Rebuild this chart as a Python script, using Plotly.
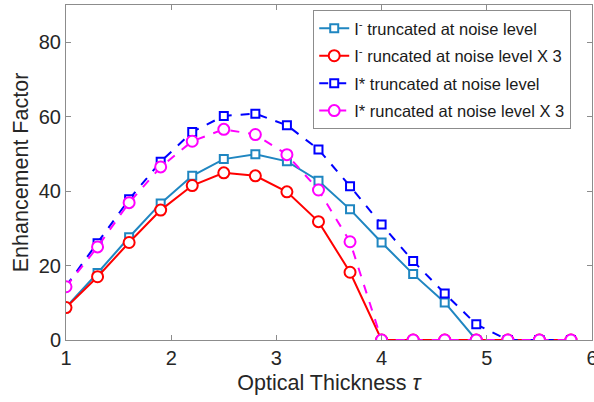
import plotly.graph_objects as go

tau = [1.0, 1.3, 1.6, 1.9, 2.2, 2.5, 2.8, 3.1, 3.4, 3.7, 4.0, 4.3, 4.6, 4.9, 5.2, 5.5, 5.8]

i_minus_noise = [8.8, 18.0, 27.6, 36.7, 44.1, 48.6, 49.9, 48.0, 42.8, 35.1, 26.2, 17.7, 10.1, 0, 0, 0, 0]
i_minus_noise3 = [8.7, 17.0, 26.2, 34.9, 41.5, 44.9, 44.1, 39.8, 31.8, 18.2, 0, 0, 0, 0, 0, 0, 0]
i_star_noise = [14.5, 26.0, 37.8, 47.9, 55.9, 60.2, 60.8, 57.7, 51.2, 41.3, 31.0, 21.2, 12.5, 4.2, 0, 0, 0]
i_star_noise3 = [14.3, 25.0, 36.9, 46.5, 53.4, 56.6, 55.2, 49.8, 40.3, 26.4, 0, 0, 0, 0, 0, 0, 0]

names = [
    "I<sup>-</sup> truncated at noise level",
    "I<sup>-</sup> runcated at noise level X 3",
    "I* truncated at noise level",
    "I* runcated at noise level X 3",
]
colors = ["#1F86C1", "#FF0000", "#0000FF", "#FF00FF"]
symbols = ["square", "circle", "square", "circle"]
dashes = ["solid", "solid", "dash", "dash"]
sizes = [8, 11, 8, 11]

fig = go.Figure()
for k, (ys, name, c, s, d, sz) in enumerate(zip(
    [i_minus_noise, i_minus_noise3, i_star_noise, i_star_noise3],
    names, colors, symbols, dashes, sizes,
)):
    fig.add_trace(go.Scatter(
        x=tau, y=ys, name=name, mode="lines+markers", legendgroup=f"g{k}",
        line=dict(color=c, width=2, dash=d),
        marker=dict(symbol=s, size=sz, color="white", line=dict(width=2, color=c)),
    ))

axis_common = dict(
    showline=True, linecolor="#8c8c8c", linewidth=1, mirror="ticks",
    ticks="inside", ticklen=5, tickcolor="#8c8c8c",
    showgrid=False, zeroline=False, ticklabeloverflow="allow", automargin=False,
    tickfont=dict(family="Liberation Sans, Arial", size=20, color="#262626"),
)

fig.update_layout(
    width=594, height=402,
    margin=dict(l=66, r=2, t=5, b=62),
    paper_bgcolor="white", plot_bgcolor="white",
    font=dict(family="Liberation Sans, Arial", color="#262626"),
    xaxis=dict(range=[1, 6], tickvals=[1, 2, 3, 4, 5, 6],
               title=dict(text="Optical Thickness <i>τ</i>", font=dict(size=21.5), standoff=6),
               **axis_common),
    yaxis=dict(range=[0, 90], tickvals=[0, 20, 40, 60, 80],
               title=dict(text="Enhancement Factor", font=dict(size=21.5), standoff=4),
               **axis_common),
    legend=dict(x=0.47, y=0.985, xanchor="left", yanchor="top",
                bgcolor="white", bordercolor="#8c8c8c", borderwidth=1,
                font=dict(size=16.5, color="#1a1a1a"), tracegroupgap=3,
                itemwidth=30),
    showlegend=True,
)

fig.write_html("out.html")
